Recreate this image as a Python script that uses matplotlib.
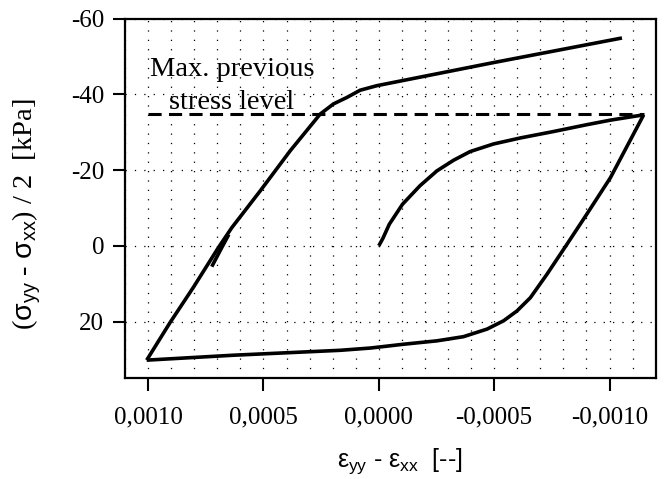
import matplotlib
matplotlib.use("Agg")
import matplotlib.pyplot as plt
from matplotlib.ticker import FixedLocator, MultipleLocator

plt.rcParams['mathtext.fontset'] = 'custom'
plt.rcParams['mathtext.rm'] = 'Liberation Sans'
plt.rcParams['mathtext.it'] = 'Liberation Sans'

# --- data (strain [-], stress [kPa]) ---
load_strain = [0.0, -0.000018, -0.0000456, -0.000103, -0.000179, -0.000252, -0.000324,
               -0.000396, -0.000497, -0.000614, -0.000758, -0.000902, -0.001004, -0.001148]
load_stress = [0.0, -2.0, -5.7, -11.0, -15.9, -19.8, -22.6, -24.9, -26.9, -28.5, -30.2,
               -32.0, -33.2, -34.6]

unload_strain = [-0.001148, -0.001004, -0.000902, -0.000816, -0.000729, -0.000657,
                 -0.000599, -0.000541, -0.000469, -0.000367, -0.000252, -0.000107,
                 0.000036, 0.000167, 0.00063, 0.001006]
unload_stress = [-34.6, -18.0, -8.4, -0.45, 7.5, 13.7, 17.2, 19.8, 22.0, 24.0, 25.1, 26.0,
                 27.0, 27.6, 28.9, 30.2]

reload_strain = [0.001006, 0.000905, 0.000804, 0.000695, 0.000637, 0.000514, 0.000384,
                 0.000254, 0.000196, 0.000138, 0.000081, 0.0000083, -0.000497, -0.001054]
reload_stress = [30.2, 20.3, 11.0, 0.45, -4.8, -14.5, -25.1, -34.8, -37.5, -39.2, -41.1,
                 -42.3, -48.4, -54.9]

branch_strain = [0.000724, 0.00068, 0.00065]
branch_stress = [5.5, 0.4, -3.0]

max_prev_strain = [0.0010, -0.001148]
max_prev_stress = [-34.7, -34.7]

xticks = [0.0010, 0.0005, 0.0, -0.0005, -0.0010]
xticklabels = ['0,0010', '0,0005', '0,0000', '-0,0005', '-0,0010']
yticks = [-60, -40, -20, 0, 20]
yticklabels = ['-60', '-40', '-20', '0', '20']

fig = plt.figure(figsize=(6.67, 4.79), dpi=100)
ax = fig.add_axes([0.1874, 0.2102, 0.7956, 0.7508])

lw = 2.6
for xs, ys in [(load_strain, load_stress), (unload_strain, unload_stress),
               (reload_strain, reload_stress), (branch_strain, branch_stress)]:
    ax.plot(xs, ys, color='black', lw=lw, solid_joinstyle='round',
            solid_capstyle='butt', zorder=3)
ax.plot(max_prev_strain, max_prev_stress, color='black', lw=2.2,
        linestyle=(0, (4.3, 2.4)), zorder=3)

ax.set_xlim(0.0011, -0.0012)
ax.set_ylim(35, -60)

ax.xaxis.set_major_locator(FixedLocator(xticks))
ax.set_xticklabels(xticklabels)
ax.yaxis.set_major_locator(FixedLocator(yticks))
ax.set_yticklabels(yticklabels)
ax.xaxis.set_minor_locator(MultipleLocator(0.0001))

serif = 'Liberation Serif'
for lab in ax.get_xticklabels() + ax.get_yticklabels():
    lab.set_fontfamily(serif)
    lab.set_fontsize(18)

ax.tick_params(axis='both', which='major', direction='out', length=9, width=1.5)
ax.tick_params(axis='x', which='major', pad=11)
ax.tick_params(axis='y', which='major', pad=6)
ax.tick_params(axis='x', which='minor', length=0)

grid_ls = (0, (1, 6.5))
ax.grid(axis='x', which='both', color='black', lw=0.9, linestyle=grid_ls)
ax.grid(axis='y', which='major', color='black', lw=0.9, linestyle=grid_ls)
ax.set_axisbelow(True)

for s in ax.spines.values():
    s.set_linewidth(1.6)

ax.text(0.000637, -44.9, 'Max. previous', family=serif, fontsize=20.5,
        ha='center', va='baseline')
ax.text(0.000637, -36.1, 'stress level', family=serif, fontsize=20.5,
        ha='center', va='baseline')

ax.set_xlabel(r'$\epsilon_{yy}$ - $\epsilon_{xx}$  [--]', family='Liberation Sans',
              fontsize=18, va='top')
ax.xaxis.set_label_coords(0.517, -0.19)
ax.set_ylabel(r'($\sigma_{yy}$ - $\sigma_{xx}$) / 2  [kPa]', family=serif,
              fontsize=20.5)
ax.yaxis.set_label_coords(-0.155, 0.457)

fig.savefig('out.png', dpi=100)
